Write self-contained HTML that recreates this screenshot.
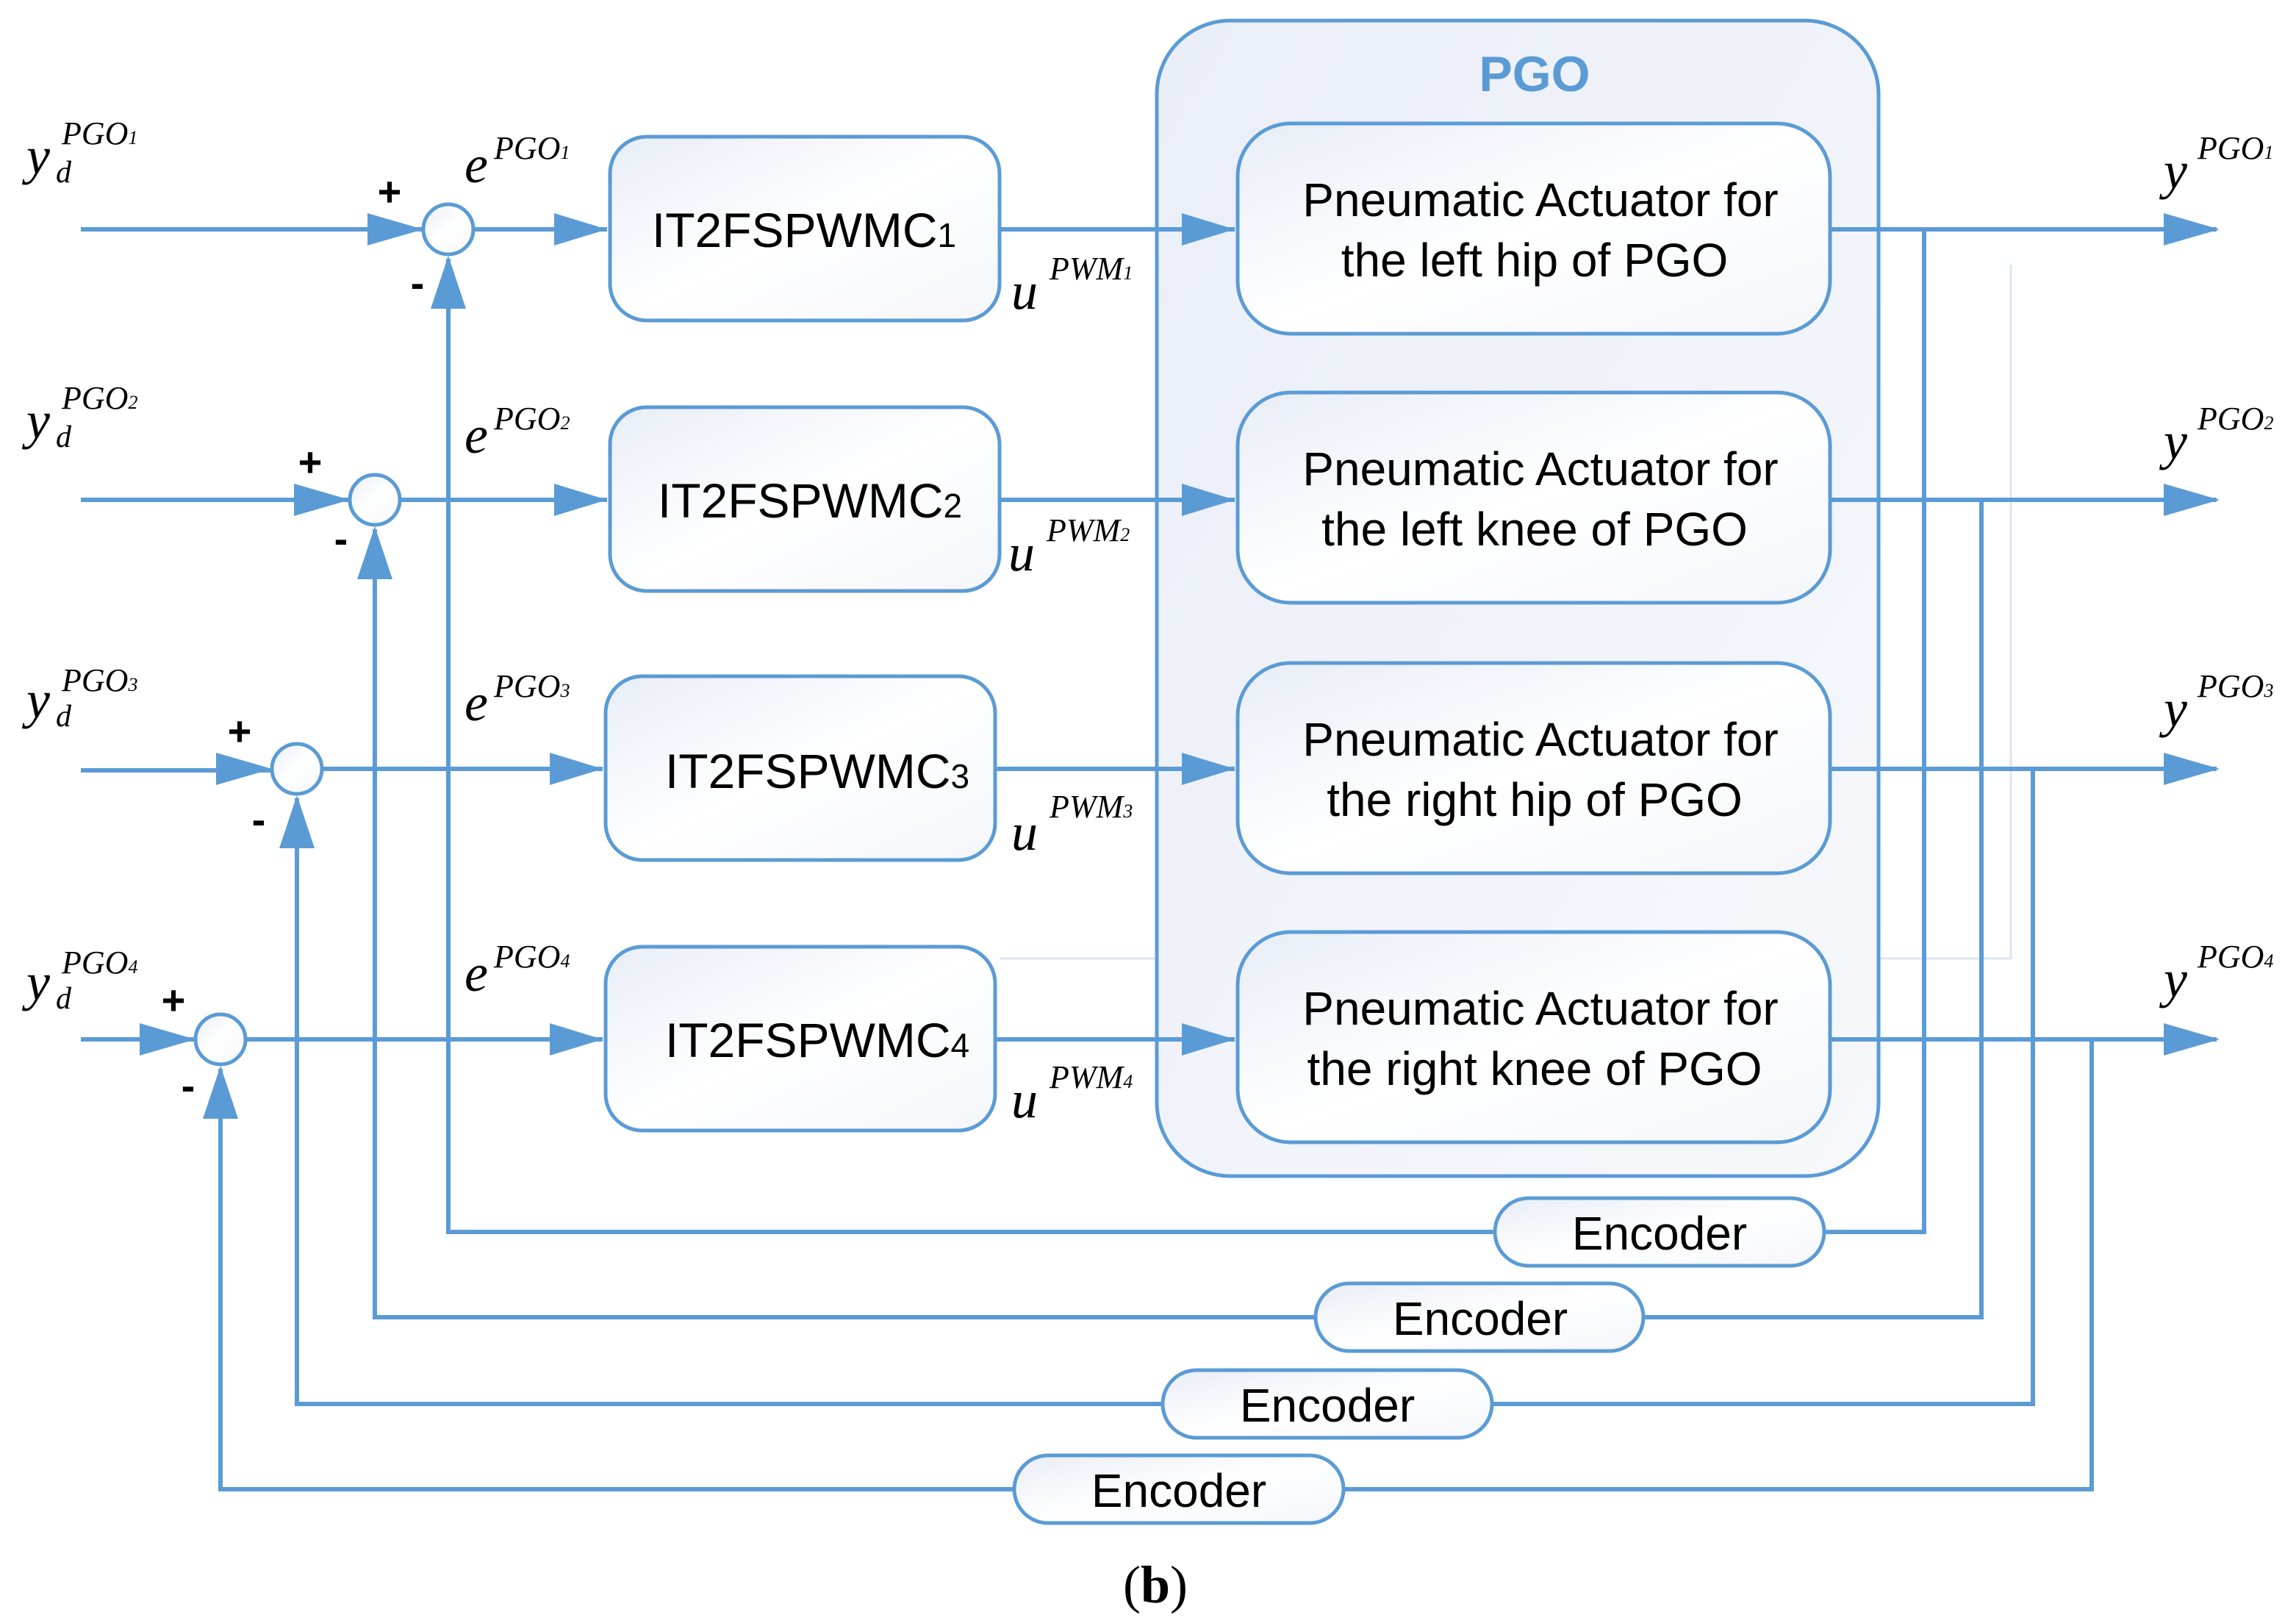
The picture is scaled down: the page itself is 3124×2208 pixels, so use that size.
<!DOCTYPE html>
<html><head><style>html,body{margin:0;padding:0;background:#fff}svg{display:block}</style></head><body>
<svg width="3124" height="2208" viewBox="0 0 1562 1104" xmlns="http://www.w3.org/2000/svg">
<defs>
<linearGradient id="g" x1="0" y1="0" x2="1" y2="1"><stop offset="0" stop-color="#e8edf6"/><stop offset="0.5" stop-color="#ffffff"/><stop offset="1" stop-color="#f4f6fa"/></linearGradient>
<linearGradient id="gb" x1="0" y1="0" x2="1" y2="1"><stop offset="0" stop-color="#eaeef7"/><stop offset="1" stop-color="#f6f8fb"/></linearGradient>
</defs>
<style>
.l{stroke:#5b9bd5;stroke-width:3;fill:none}
.t{font-family:"Liberation Serif",serif;font-style:italic}
.s{font-family:"Liberation Sans",sans-serif}
</style>
<path d="M1368 180 V652 H680" stroke="#dde4ef" stroke-width="1.5" fill="none"/>
<rect x="787" y="14" width="491" height="786" rx="50" fill="url(#gb)" stroke="#5b9bd5" stroke-width="2.5"/>
<text x="1044" y="62" text-anchor="middle" class="s" font-weight="bold" font-size="34" fill="#5b9bd5">PGO</text>
<g class="l">
<path d="M55 156 H288"/>
<path d="M322 156 H413"/><path d="M680 156 H840"/><path d="M1245 156 H1508"/>
<path d="M1309 156 V838 H1241"/><path d="M1017 838 H305 V176"/>
<path d="M55 340 H238"/><path d="M272 340 H413"/><path d="M680 340 H840"/><path d="M1245 340 H1508"/>
<path d="M1348 340 V896 H1118"/><path d="M895 896 H255 V360"/>
<path d="M55 524 H185"/><path d="M219 523 H410"/><path d="M677 523 H840"/><path d="M1245 523 H1508"/>
<path d="M1383 523 V955 H1015"/><path d="M791 955 H202 V543"/>
<path d="M55 707 H133"/><path d="M167 707 H410"/><path d="M677 707 H840"/><path d="M1245 707 H1508"/>
<path d="M1423 707 V1013 H914"/><path d="M690 1013 H150 V727"/>
</g>
<g fill="#5b9bd5">
<path d="M250 145 L288 156 L250 167z"/><path d="M377 145 L413 156 L377 167z"/><path d="M804 145 L840 156 L804 167z"/><path d="M1472 145 L1510 156 L1472 167z"/><path d="M293 210 L305 174 L317 210z"/>
<path d="M200 329 L238 340 L200 351z"/><path d="M377 329 L413 340 L377 351z"/><path d="M804 329 L840 340 L804 351z"/><path d="M1472 329 L1510 340 L1472 351z"/><path d="M243 394 L255 358 L267 394z"/>
<path d="M147 512 L185 523 L147 534z"/><path d="M374 512 L410 523 L374 534z"/><path d="M804 512 L840 523 L804 534z"/><path d="M1472 512 L1510 523 L1472 534z"/><path d="M190 577 L202 541 L214 577z"/>
<path d="M95 696 L133 707 L95 718z"/><path d="M374 696 L410 707 L374 718z"/><path d="M804 696 L840 707 L804 718z"/><path d="M1472 696 L1510 707 L1472 718z"/><path d="M138 761 L150 725 L162 761z"/>
</g>
<g stroke="#5b9bd5" stroke-width="2.5" fill="url(#g)">
<circle cx="305" cy="156" r="17"/><circle cx="255" cy="340" r="17"/><circle cx="202" cy="523" r="17"/><circle cx="150" cy="707" r="17"/>
<rect x="415" y="93" width="265" height="125" rx="25"/><rect x="415" y="277" width="265" height="125" rx="25"/>
<rect x="412" y="460" width="265" height="125" rx="25"/><rect x="412" y="644" width="265" height="125" rx="25"/>
<rect x="842" y="84" width="403" height="143" rx="36"/><rect x="842" y="267" width="403" height="143" rx="36"/>
<rect x="842" y="451" width="403" height="143" rx="36"/><rect x="842" y="634" width="403" height="143" rx="36"/>
<rect x="1017" y="815" width="224" height="46" rx="23"/><rect x="895" y="873" width="223" height="46" rx="23"/>
<rect x="791" y="932" width="224" height="46" rx="23"/><rect x="690" y="990" width="224" height="46" rx="23"/>
</g>
<g class="s" font-size="33" fill="#000" text-anchor="middle">
<text x="547" y="168">IT2FSPWMC<tspan font-size="23">1</tspan></text>
<text x="551" y="352">IT2FSPWMC<tspan font-size="23">2</tspan></text>
<text x="556" y="536">IT2FSPWMC<tspan font-size="23">3</tspan></text>
<text x="556" y="719">IT2FSPWMC<tspan font-size="23">4</tspan></text>
<g font-size="32">
<text x="1048" y="147">Pneumatic Actuator for</text><text x="1044" y="188">the left hip of PGO</text>
<text x="1048" y="330">Pneumatic Actuator for</text><text x="1044" y="371">the left knee of PGO</text>
<text x="1048" y="514">Pneumatic Actuator for</text><text x="1044" y="555">the right hip of PGO</text>
<text x="1048" y="697">Pneumatic Actuator for</text><text x="1044" y="738">the right knee of PGO</text>
<text x="1129" y="850">Encoder</text><text x="1007" y="908">Encoder</text><text x="903" y="967">Encoder</text><text x="802" y="1025">Encoder</text>
</g>
<g font-size="28" font-weight="bold">
<text x="265" y="140">+</text><text x="284" y="202">-</text>
<text x="211" y="324">+</text><text x="232" y="376">-</text>
<text x="163" y="507">+</text><text x="176" y="567">-</text>
<text x="118" y="690">+</text><text x="128" y="748">-</text>
</g>
</g>
<g class="t" fill="#000">
<g font-size="36"><text x="18" y="118">y</text><text x="18" y="298">y</text><text x="18" y="488">y</text><text x="18" y="680">y</text>
<text x="316" y="124">e</text><text x="316" y="308">e</text><text x="316" y="490">e</text><text x="316" y="674">e</text>
<text x="688" y="210">u</text><text x="686" y="388">u</text><text x="688" y="578">u</text><text x="688" y="760">u</text>
<text x="1472" y="128">y</text><text x="1472" y="312">y</text><text x="1472" y="494">y</text><text x="1472" y="678">y</text></g>
<g font-size="21"><text x="38" y="124">d</text><text x="38" y="304">d</text><text x="38" y="494">d</text><text x="38" y="686">d</text></g>
<g font-size="22">
<text x="42" y="98">PGO<tspan font-size="13">1</tspan></text><text x="42" y="278">PGO<tspan font-size="13">2</tspan></text><text x="42" y="470">PGO<tspan font-size="13">3</tspan></text><text x="42" y="662">PGO<tspan font-size="13">4</tspan></text>
<text x="336" y="108">PGO<tspan font-size="13">1</tspan></text><text x="336" y="292">PGO<tspan font-size="13">2</tspan></text><text x="336" y="474">PGO<tspan font-size="13">3</tspan></text><text x="336" y="658">PGO<tspan font-size="13">4</tspan></text>
<text x="714" y="190">PWM<tspan font-size="13">1</tspan></text><text x="712" y="368">PWM<tspan font-size="13">2</tspan></text><text x="714" y="556">PWM<tspan font-size="13">3</tspan></text><text x="714" y="740">PWM<tspan font-size="13">4</tspan></text>
<text x="1495" y="108">PGO<tspan font-size="13">1</tspan></text><text x="1495" y="292">PGO<tspan font-size="13">2</tspan></text><text x="1495" y="474">PGO<tspan font-size="13">3</tspan></text><text x="1495" y="658">PGO<tspan font-size="13">4</tspan></text>
</g>
</g>
<text x="786" y="1090" text-anchor="middle" font-family="Liberation Serif,serif" font-size="36" fill="#000">(<tspan font-weight="bold">b</tspan>)</text>
</svg>
</body></html>
